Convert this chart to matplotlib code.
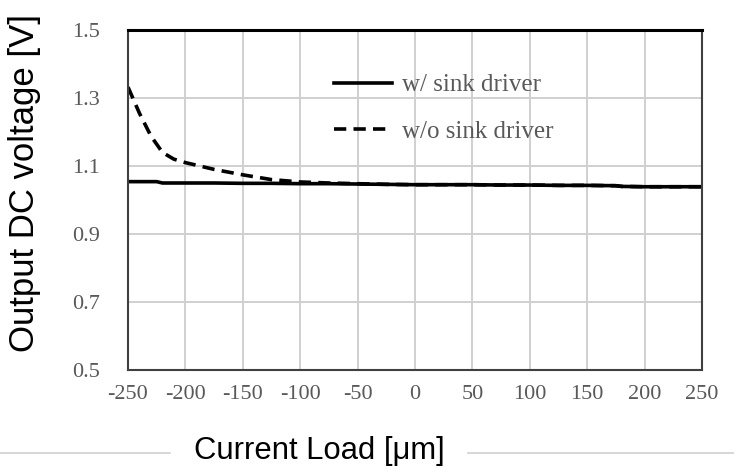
import numpy as np
import matplotlib.pyplot as plt
from matplotlib.lines import Line2D

# data
x_sink = [-250, -225, -220, -200, -175, -150, -125, -100, -75, -50, -25, 0,
          25, 50, 75, 100, 125, 150, 175, 180, 200, 225, 250]
v_sink = [1.054, 1.054, 1.050, 1.050, 1.050, 1.049, 1.049, 1.048, 1.048, 1.047, 1.046, 1.045,
          1.045, 1.045, 1.044, 1.044, 1.043, 1.043, 1.042, 1.040, 1.039, 1.039, 1.039]

x_nosink = [-250, -240, -230, -220, -210, -200, -175, -150, -125, -100, -75, -50, -25, 0,
            25, 50, 75, 100, 125, 150, 175, 180, 200, 225, 250]
v_nosink = [1.332, 1.255, 1.188, 1.140, 1.120, 1.110, 1.090, 1.074, 1.060, 1.053, 1.050, 1.048,
            1.046, 1.045, 1.045, 1.045, 1.044, 1.044, 1.043, 1.043, 1.042, 1.040, 1.039, 1.039, 1.039]

x_ticks = [-250, -200, -150, -100, -50, 0, 50, 100, 150, 200, 250]
y_ticks = [0.5, 0.7, 0.9, 1.1, 1.3, 1.5]

plt.rcParams['font.family'] = 'Liberation Sans'

fig = plt.figure(figsize=(7.34, 4.74), dpi=100)
ax = fig.add_axes([128 / 734, 1 - 370 / 474, (702 - 128) / 734, (370 - 30) / 474])

ax.plot(x_sink, v_sink, '-', color='black', lw=2.6, label='w/ sink driver')
ax.plot(x_nosink, v_nosink, '--', color='black', lw=2.6, dashes=(3.4, 2),
        label='w/o sink driver')

ax.set_xlim(-250, 250)
ax.set_ylim(0.5, 1.5)
ax.set_xticks(x_ticks)
ax.set_yticks(y_ticks)
ax.set_xticklabels([str(t) for t in x_ticks], family='Liberation Serif')
ax.set_yticklabels([f'{t:.1f}' for t in y_ticks], family='Liberation Serif')
ax.tick_params(length=0, labelsize=16, colors='#595959')
ax.tick_params(axis='x', pad=11)
ax.tick_params(axis='y', pad=20)
ax.grid(True, color='#d0d0d0', lw=1.4)
ax.set_axisbelow(True)
for s in ax.spines.values():
    s.set_color('#404040')
    s.set_linewidth(1.5)
ax.spines['top'].set_color('black')
ax.spines['top'].set_linewidth(2.2)

fig.text(25 / 734, 1 - 183 / 474, 'Output DC voltage [V]', fontsize=25,
         rotation=90, ha='center', va='center')
fig.text(319 / 734, 1 - 451 / 474, 'Current Load [\u03bcm]', fontsize=22.3,
         ha='center', va='center')
fig.add_artist(Line2D([0, 170 / 734], [1 - 453 / 474] * 2, color='#d0d0d0', lw=1.2))
fig.add_artist(Line2D([468 / 734, 1], [1 - 453 / 474] * 2, color='#d0d0d0', lw=1.2))

ax.legend(loc='center left', bbox_to_anchor=(0.32, 0.77), frameon=False,
          prop={'family': 'Liberation Serif', 'size': 18}, handlelength=2.3,
          handletextpad=0.4, labelspacing=0.95, labelcolor='#595959')

fig.savefig('out.png', dpi=100)
